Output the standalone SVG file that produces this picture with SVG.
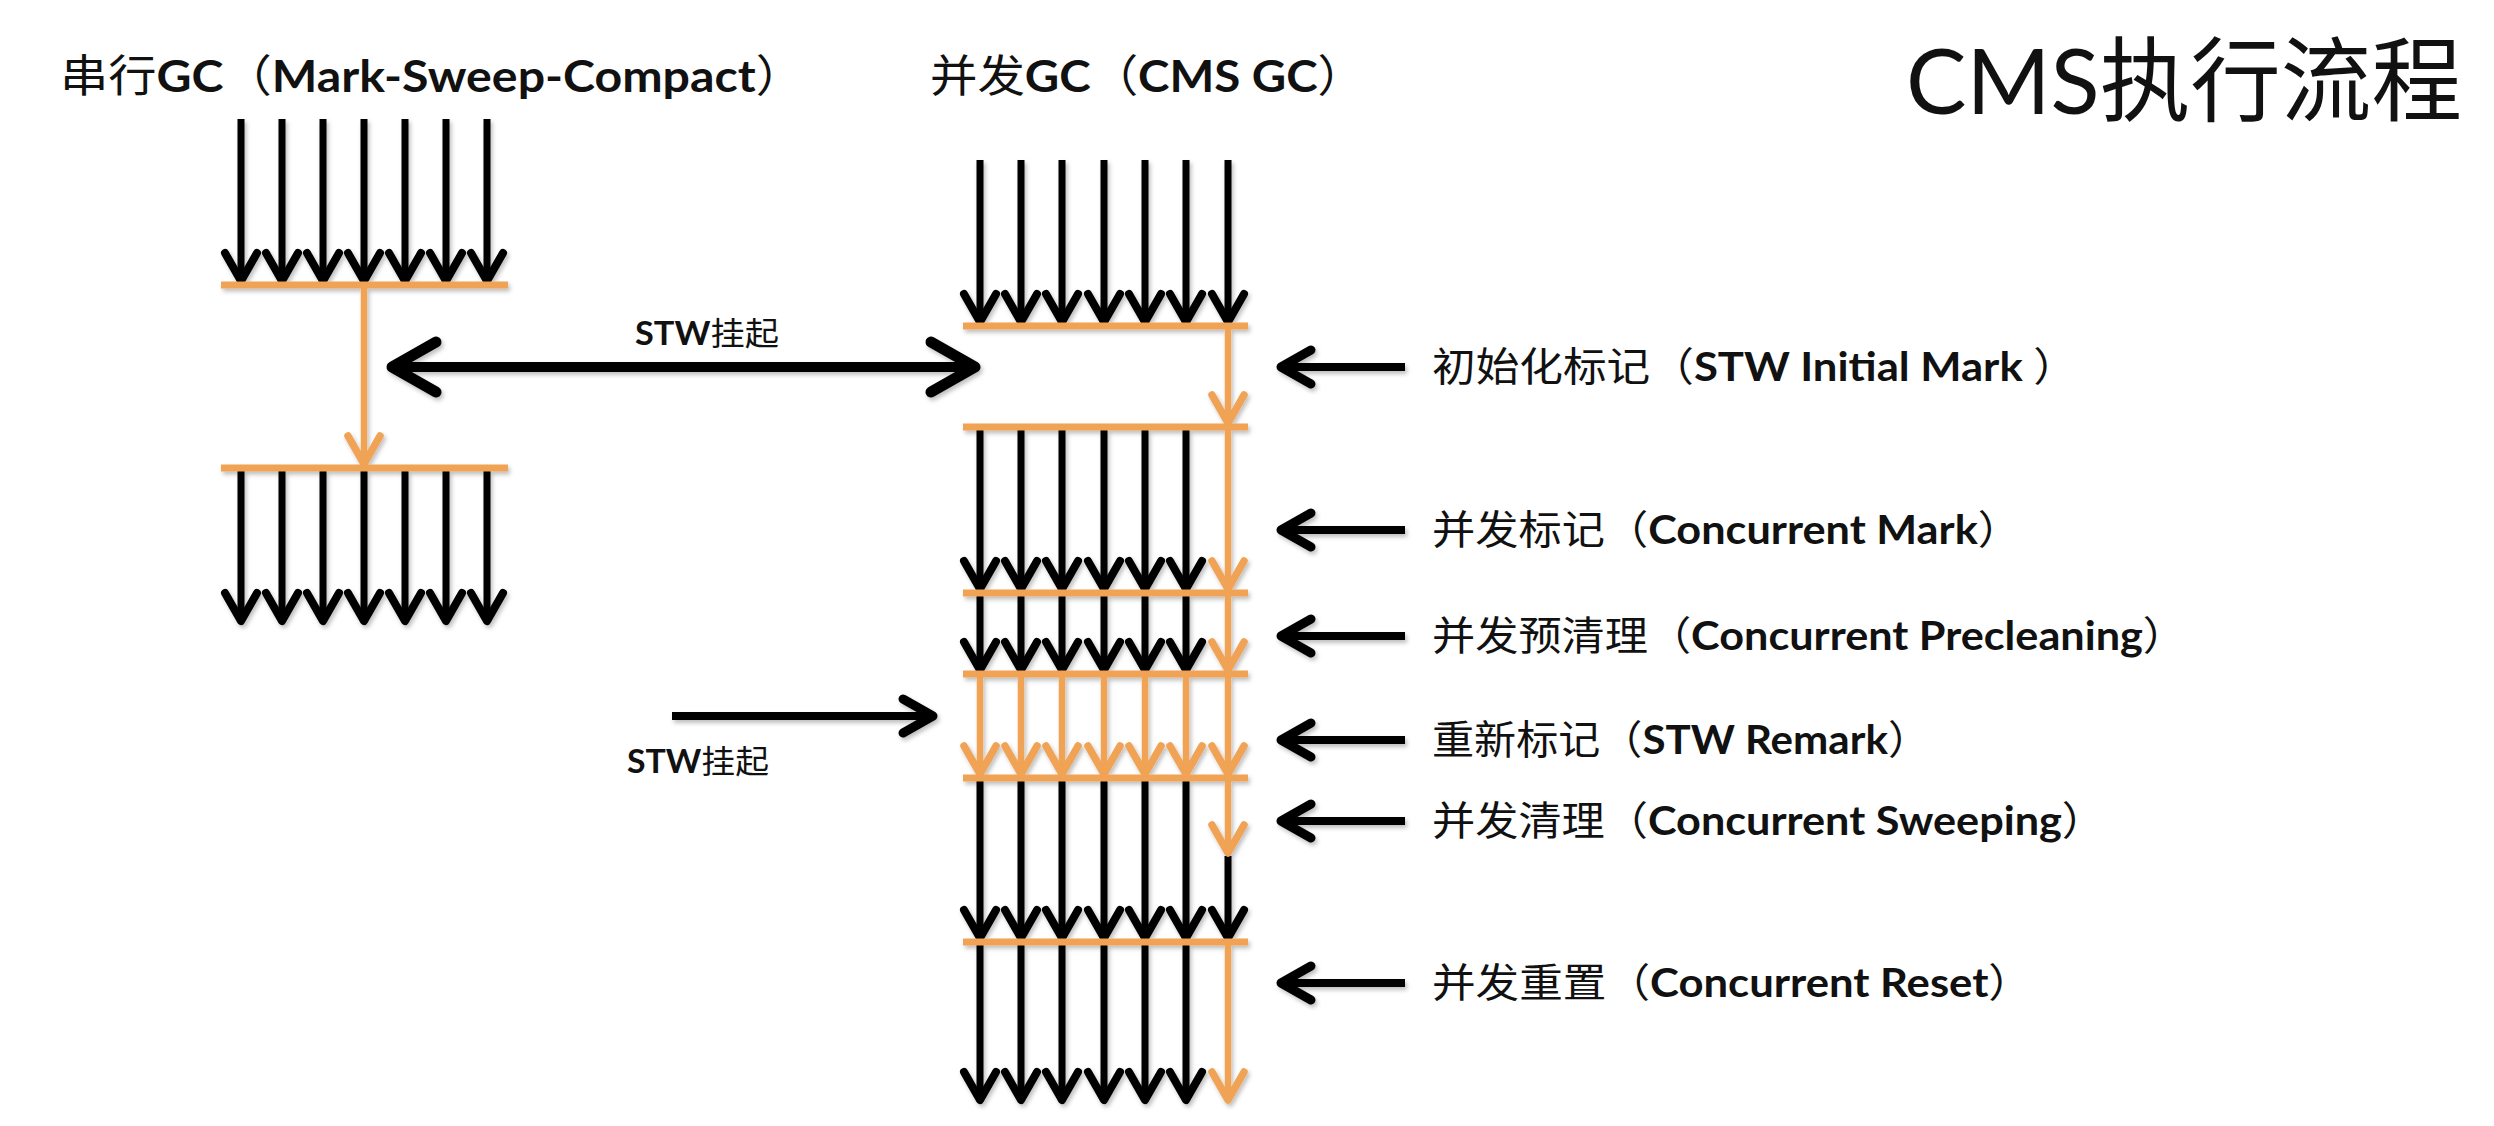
<svg xmlns="http://www.w3.org/2000/svg" width="2494" height="1126" viewBox="0 0 2494 1126">
<style>
.t{font-family:Lato,"Noto Sans CJK SC",sans-serif;fill:#111}
.c{font-family:"Noto Sans CJK SC",sans-serif;font-weight:400}
.l{font-family:Lato,"Liberation Sans",sans-serif;font-weight:700}
.blk{stroke:#000;stroke-width:7;fill:none;marker-end:url(#ah-k)}
.org{stroke:#F0A254;stroke-width:6.5;fill:none;marker-end:url(#ah-o)}
.bar{stroke:#F0A254;stroke-width:7;fill:none}
.lab{stroke:#000;stroke-width:8;fill:none;marker-end:url(#ah-m)}
.stw{stroke:#000;stroke-width:8;fill:none;marker-end:url(#ah-m)}
.dbl{stroke:#000;stroke-width:10;fill:none;marker-start:url(#ah-b);marker-end:url(#ah-b)}
</style>
<defs>
<filter id="sh" x="-10%" y="-10%" width="130%" height="140%">
<feDropShadow dx="2" dy="3" stdDeviation="2" flood-color="#000" flood-opacity="0.25"/>
</filter>
<marker id="ah-k" markerUnits="userSpaceOnUse" markerWidth="46" markerHeight="46" refX="35" refY="23" orient="auto">
<path d="M7 7 L35 23 L7 39" fill="none" stroke="#000" stroke-width="8" stroke-linecap="round" stroke-linejoin="round"/>
</marker>
<marker id="ah-o" markerUnits="userSpaceOnUse" markerWidth="46" markerHeight="46" refX="35" refY="23" orient="auto">
<path d="M7 7 L35 23 L7 39" fill="none" stroke="#F0A254" stroke-width="7.5" stroke-linecap="round" stroke-linejoin="round"/>
</marker>
<marker id="ah-m" markerUnits="userSpaceOnUse" markerWidth="50" markerHeight="50" refX="40" refY="25" orient="auto">
<path d="M10 8 L40 25 L10 42" fill="none" stroke="#000" stroke-width="9" stroke-linecap="round" stroke-linejoin="round"/>
</marker>
<marker id="ah-b" markerUnits="userSpaceOnUse" markerWidth="70" markerHeight="70" refX="56" refY="35" orient="auto-start-reverse">
<path d="M12 10 L56 35 L12 60" fill="none" stroke="#000" stroke-width="11" stroke-linecap="round" stroke-linejoin="round"/>
</marker>
</defs>
<rect width="2494" height="1126" fill="#fff"/>

<g id="main-title">
<text class="t" x="1906" y="114" font-size="92" textLength="556" lengthAdjust="spacingAndGlyphs"><tspan font-family="Lato,sans-serif" font-weight="400">CMS</tspan><tspan class="c">执行流程</tspan></text>
</g>

<g id="serial-title">
<text class="t" x="60" y="92" font-size="44" textLength="744" lengthAdjust="spacingAndGlyphs"><tspan class="c">串行</tspan><tspan class="l">GC</tspan><tspan class="c">（</tspan><tspan class="l">Mark-Sweep-Compact</tspan><tspan class="c">）</tspan></text>
</g>

<g id="cms-title">
<text class="t" x="930" y="92" font-size="44" textLength="435" lengthAdjust="spacingAndGlyphs"><tspan class="c">并发</tspan><tspan class="l">GC</tspan><tspan class="c">（</tspan><tspan class="l">CMS GC</tspan><tspan class="c">）</tspan></text>
</g>

<g id="serial-gc" filter="url(#sh)">
<line class="blk" x1="241" y1="119" x2="241" y2="281"/>
<line class="blk" x1="282" y1="119" x2="282" y2="281"/>
<line class="blk" x1="323" y1="119" x2="323" y2="281"/>
<line class="blk" x1="364" y1="119" x2="364" y2="281"/>
<line class="blk" x1="405" y1="119" x2="405" y2="281"/>
<line class="blk" x1="446" y1="119" x2="446" y2="281"/>
<line class="blk" x1="487" y1="119" x2="487" y2="281"/>
<line class="bar" x1="221" y1="285" x2="508" y2="285"/>
<line class="org" x1="364" y1="285" x2="364" y2="464"/>
<line class="blk" x1="241" y1="468" x2="241" y2="621"/>
<line class="blk" x1="282" y1="468" x2="282" y2="621"/>
<line class="blk" x1="323" y1="468" x2="323" y2="621"/>
<line class="blk" x1="364" y1="468" x2="364" y2="621"/>
<line class="blk" x1="405" y1="468" x2="405" y2="621"/>
<line class="blk" x1="446" y1="468" x2="446" y2="621"/>
<line class="blk" x1="487" y1="468" x2="487" y2="621"/>
<line class="bar" x1="221" y1="468" x2="508" y2="468"/>
</g>

<g id="cms-gc" filter="url(#sh)">
<line class="blk" x1="980" y1="160" x2="980" y2="322"/>
<line class="blk" x1="1021" y1="160" x2="1021" y2="322"/>
<line class="blk" x1="1062" y1="160" x2="1062" y2="322"/>
<line class="blk" x1="1104" y1="160" x2="1104" y2="322"/>
<line class="blk" x1="1145" y1="160" x2="1145" y2="322"/>
<line class="blk" x1="1186" y1="160" x2="1186" y2="322"/>
<line class="blk" x1="1228" y1="160" x2="1228" y2="322"/>
<line class="bar" x1="963" y1="326" x2="1248" y2="326"/>
<line class="org" x1="1228" y1="326" x2="1228" y2="423"/>
<line class="blk" x1="980" y1="427" x2="980" y2="589"/>
<line class="blk" x1="1021" y1="427" x2="1021" y2="589"/>
<line class="blk" x1="1062" y1="427" x2="1062" y2="589"/>
<line class="blk" x1="1104" y1="427" x2="1104" y2="589"/>
<line class="blk" x1="1145" y1="427" x2="1145" y2="589"/>
<line class="blk" x1="1186" y1="427" x2="1186" y2="589"/>
<line class="org" x1="1228" y1="427" x2="1228" y2="589"/>
<line class="bar" x1="963" y1="427" x2="1248" y2="427"/>
<line class="blk" x1="980" y1="593" x2="980" y2="670"/>
<line class="blk" x1="1021" y1="593" x2="1021" y2="670"/>
<line class="blk" x1="1062" y1="593" x2="1062" y2="670"/>
<line class="blk" x1="1104" y1="593" x2="1104" y2="670"/>
<line class="blk" x1="1145" y1="593" x2="1145" y2="670"/>
<line class="blk" x1="1186" y1="593" x2="1186" y2="670"/>
<line class="org" x1="1228" y1="593" x2="1228" y2="670"/>
<line class="bar" x1="963" y1="593" x2="1248" y2="593"/>
<line class="org" x1="980" y1="674" x2="980" y2="774"/>
<line class="org" x1="1021" y1="674" x2="1021" y2="774"/>
<line class="org" x1="1062" y1="674" x2="1062" y2="774"/>
<line class="org" x1="1104" y1="674" x2="1104" y2="774"/>
<line class="org" x1="1145" y1="674" x2="1145" y2="774"/>
<line class="org" x1="1186" y1="674" x2="1186" y2="774"/>
<line class="org" x1="1228" y1="674" x2="1228" y2="774"/>
<line class="bar" x1="963" y1="674" x2="1248" y2="674"/>
<line class="blk" x1="980" y1="778" x2="980" y2="938"/>
<line class="blk" x1="1021" y1="778" x2="1021" y2="938"/>
<line class="blk" x1="1062" y1="778" x2="1062" y2="938"/>
<line class="blk" x1="1104" y1="778" x2="1104" y2="938"/>
<line class="blk" x1="1145" y1="778" x2="1145" y2="938"/>
<line class="blk" x1="1186" y1="778" x2="1186" y2="938"/>
<line class="blk" x1="1228" y1="856" x2="1228" y2="938"/>
<line class="org" x1="1228" y1="778" x2="1228" y2="853"/>
<line class="bar" x1="963" y1="778" x2="1248" y2="778"/>
<line class="blk" x1="980" y1="942" x2="980" y2="1100"/>
<line class="blk" x1="1021" y1="942" x2="1021" y2="1100"/>
<line class="blk" x1="1062" y1="942" x2="1062" y2="1100"/>
<line class="blk" x1="1104" y1="942" x2="1104" y2="1100"/>
<line class="blk" x1="1145" y1="942" x2="1145" y2="1100"/>
<line class="blk" x1="1186" y1="942" x2="1186" y2="1100"/>
<line class="org" x1="1228" y1="942" x2="1228" y2="1100"/>
<line class="bar" x1="963" y1="942" x2="1248" y2="942"/>
</g>

<g id="stw-label-top">
<text class="t" x="635" y="345" font-size="32" textLength="144" lengthAdjust="spacingAndGlyphs"><tspan class="l">STW</tspan><tspan class="c">挂起</tspan></text>
</g>
<g id="stw-label-bottom">
<text class="t" x="627" y="773" font-size="32" textLength="142" lengthAdjust="spacingAndGlyphs"><tspan class="l">STW</tspan><tspan class="c">挂起</tspan></text>
</g>

<g id="label-initial-mark">
<text class="t" x="1432" y="381" font-size="40" textLength="645" lengthAdjust="spacingAndGlyphs"><tspan class="c">初始化标记（</tspan><tspan class="l">STW Initial Mark </tspan><tspan class="c">）</tspan></text>
</g>
<g id="label-concurrent-mark">
<text class="t" x="1432" y="544" font-size="40" textLength="589" lengthAdjust="spacingAndGlyphs"><tspan class="c">并发标记（</tspan><tspan class="l">Concurrent Mark</tspan><tspan class="c">）</tspan></text>
</g>
<g id="label-precleaning">
<text class="t" x="1432" y="650" font-size="40" textLength="754" lengthAdjust="spacingAndGlyphs"><tspan class="c">并发预清理（</tspan><tspan class="l">Concurrent Precleaning</tspan><tspan class="c">）</tspan></text>
</g>
<g id="label-remark">
<text class="t" x="1432" y="754" font-size="40" textLength="498" lengthAdjust="spacingAndGlyphs"><tspan class="c">重新标记（</tspan><tspan class="l">STW Remark</tspan><tspan class="c">）</tspan></text>
</g>
<g id="label-sweeping">
<text class="t" x="1432" y="835" font-size="40" textLength="673" lengthAdjust="spacingAndGlyphs"><tspan class="c">并发清理（</tspan><tspan class="l">Concurrent Sweeping</tspan><tspan class="c">）</tspan></text>
</g>
<g id="label-reset">
<text class="t" x="1432" y="997" font-size="40" textLength="600" lengthAdjust="spacingAndGlyphs"><tspan class="c">并发重置（</tspan><tspan class="l">Concurrent Reset</tspan><tspan class="c">）</tspan></text>
</g>

<g id="connectors" filter="url(#sh)">
<line class="dbl" x1="392" y1="367" x2="975" y2="367"/>
<line class="stw" x1="672" y1="716" x2="933" y2="716"/>
<line class="lab" x1="1405" y1="367" x2="1281" y2="367"/>
<line class="lab" x1="1405" y1="530" x2="1281" y2="530"/>
<line class="lab" x1="1405" y1="636" x2="1281" y2="636"/>
<line class="lab" x1="1405" y1="740" x2="1281" y2="740"/>
<line class="lab" x1="1405" y1="821" x2="1281" y2="821"/>
<line class="lab" x1="1405" y1="983" x2="1281" y2="983"/>
</g>
</svg>
